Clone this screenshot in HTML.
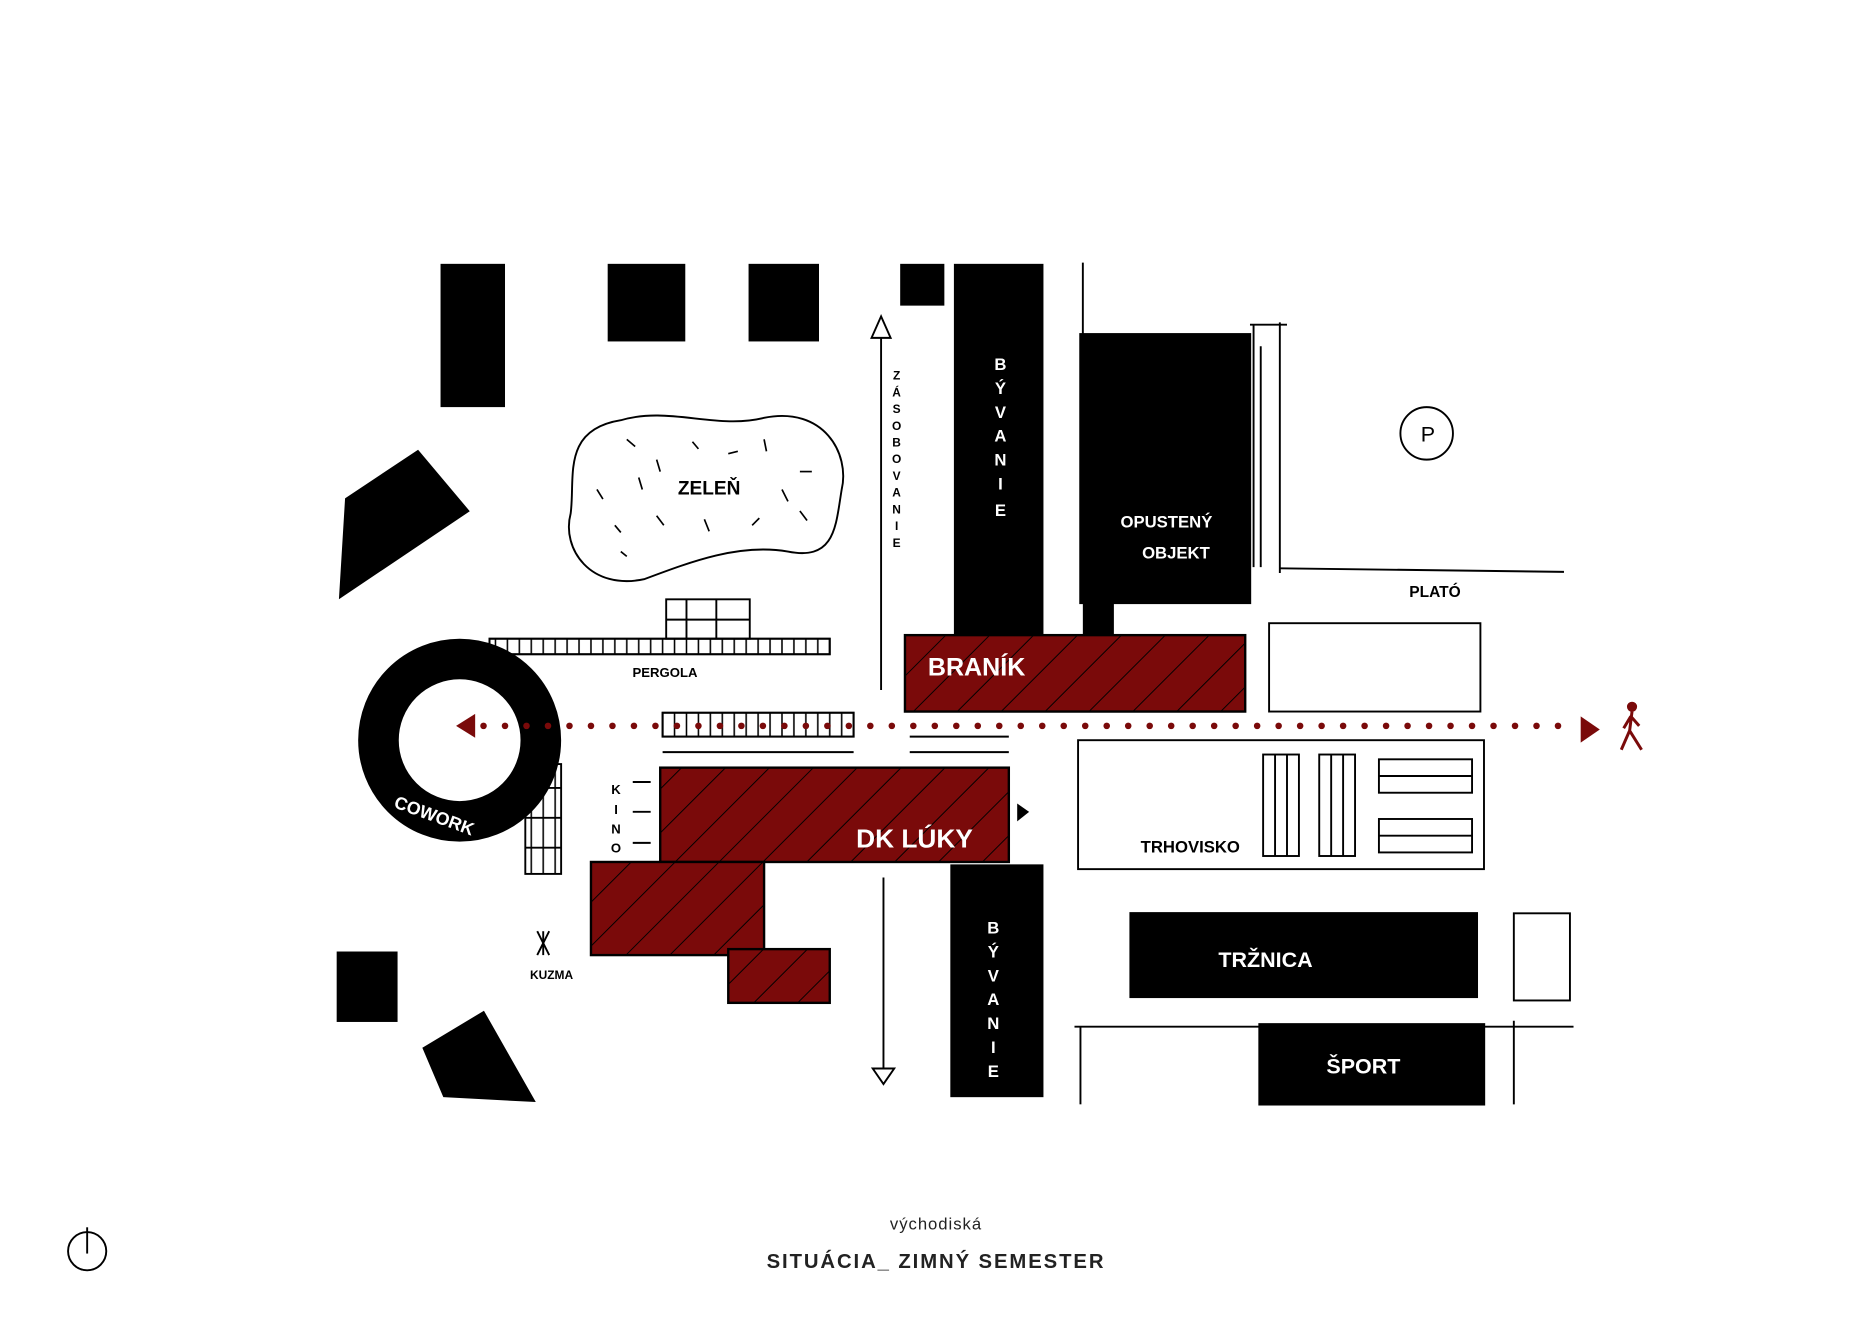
<!DOCTYPE html>
<html><head><meta charset="utf-8"><style>
html,body{margin:0;padding:0;background:#fff;}
svg{display:block;}
text{font-family:"Liberation Sans",sans-serif;}
.hw{font-family:"Liberation Sans",sans-serif;font-weight:bold;}
</style></head><body>
<svg width="1872" height="1324" viewBox="0 0 1568 1109" xmlns="http://www.w3.org/2000/svg">
<defs>
<pattern id="hatch" patternUnits="userSpaceOnUse" width="26" height="26" patternTransform="rotate(45)">
<rect width="26" height="26" fill="#7a0a0a"/><line x1="0" y1="0" x2="0" y2="26" stroke="#000" stroke-width="1.6"/>
</pattern>
<pattern id="vh" patternUnits="userSpaceOnUse" width="10" height="20"><line x1="5" y1="0" x2="5" y2="20" stroke="#000" stroke-width="1.3"/></pattern>
</defs>
<rect width="1568" height="1109" fill="#fff"/>
<g stroke="#000" stroke-width="2" fill="#000">
<rect x="370" y="222" width="52" height="118"/>
<rect x="510" y="222" width="63" height="63"/>
<rect x="628" y="222" width="57" height="63"/>
<rect x="755" y="222" width="35" height="33"/>
<rect x="800" y="222" width="73" height="310"/>
<rect x="905" y="280" width="142" height="225"/>
<rect x="908" y="505" width="24" height="27"/>
<polygon points="290,418 350,378 392,428 285,500"/>
<rect x="797" y="725" width="76" height="193"/>
<rect x="947" y="765" width="290" height="70"/>
<rect x="1055" y="858" width="188" height="67"/>
<rect x="283" y="798" width="49" height="57"/>
<polygon points="355,878 405,848 447,922 372,918"/>
</g>
<g stroke="#000" stroke-width="1.6" fill="none">
<line x1="907" y1="220" x2="907" y2="280"/>
<line x1="1050" y1="272" x2="1050" y2="475"/><line x1="1056" y1="290" x2="1056" y2="475"/>
<line x1="1072" y1="270" x2="1072" y2="480"/>
<line x1="1072" y1="476" x2="1310" y2="479"/>
<line x1="1047" y1="272" x2="1078" y2="272"/>
<circle cx="1195" cy="363" r="22"/>
<path d="M520,352 C560,340 600,360 640,350 C690,340 712,380 705,410 C700,440 700,470 660,462 C620,455 580,470 540,485 C495,495 470,460 478,430 C482,400 470,360 520,352Z"/>
<line x1="738" y1="275" x2="738" y2="578"/>
<polygon points="738,265 730,283 746,283" fill="#fff"/>
<rect x="410" y="535" width="285" height="13" fill="url(#vh)"/>
<rect x="410" y="535" width="285" height="13"/>
<rect x="558" y="502" width="70" height="33"/>
<line x1="558" y1="519" x2="628" y2="519"/><line x1="575" y1="502" x2="575" y2="535"/><line x1="600" y1="502" x2="600" y2="535"/>
<rect x="1063" y="522" width="177" height="74"/>
<rect x="555" y="597" width="160" height="20" fill="url(#vh)"/>
<rect x="555" y="597" width="160" height="20"/>
<line x1="555" y1="630" x2="715" y2="630"/><line x1="762" y1="630" x2="845" y2="630"/>
<line x1="762" y1="617" x2="845" y2="617"/>
<rect x="440" y="640" width="30" height="92" fill="url(#vh)"/>
<line x1="440" y1="660" x2="470" y2="660"/><line x1="440" y1="685" x2="470" y2="685"/><line x1="440" y1="710" x2="470" y2="710"/>
<line x1="740" y1="735" x2="740" y2="898"/>
<polygon points="740,908 731,895 749,895" fill="#fff"/>
<rect x="903" y="620" width="340" height="108"/>
<rect x="1058" y="632" width="30" height="85"/><line x1="1068" y1="632" x2="1068" y2="717"/><line x1="1078" y1="632" x2="1078" y2="717"/>
<rect x="1105" y="632" width="30" height="85"/><line x1="1115" y1="632" x2="1115" y2="717"/><line x1="1125" y1="632" x2="1125" y2="717"/>
<rect x="1155" y="636" width="78" height="28"/><line x1="1155" y1="650" x2="1233" y2="650"/>
<rect x="1155" y="686" width="78" height="28"/><line x1="1155" y1="700" x2="1233" y2="700"/>
<rect x="1268" y="765" width="47" height="73"/>
<line x1="900" y1="860" x2="1318" y2="860"/><line x1="905" y1="860" x2="905" y2="925"/><line x1="1268" y1="855" x2="1268" y2="925"/>
<line x1="530" y1="655" x2="545" y2="655"/><line x1="530" y1="680" x2="545" y2="680"/><line x1="530" y1="706" x2="545" y2="706"/>
<circle cx="73" cy="1048" r="16"/><line x1="73" y1="1028" x2="73" y2="1050"/>
<line x1="455" y1="780" x2="455" y2="800"/><line x1="450" y1="780" x2="460" y2="800"/><line x1="460" y1="780" x2="450" y2="800"/>
</g>
<g stroke="#000" stroke-width="1.4">
<line x1="525" y1="368" x2="532" y2="374"/><line x1="550" y1="385" x2="553" y2="395"/><line x1="580" y1="370" x2="585" y2="376"/><line x1="610" y1="380" x2="618" y2="378"/><line x1="640" y1="368" x2="642" y2="378"/><line x1="670" y1="395" x2="680" y2="395"/><line x1="500" y1="410" x2="505" y2="418"/><line x1="655" y1="410" x2="660" y2="420"/><line x1="515" y1="440" x2="520" y2="446"/><line x1="550" y1="432" x2="556" y2="440"/><line x1="590" y1="435" x2="594" y2="445"/><line x1="630" y1="440" x2="636" y2="434"/><line x1="670" y1="428" x2="676" y2="436"/><line x1="520" y1="462" x2="525" y2="466"/><line x1="535" y1="400" x2="538" y2="410"/>
</g>
<circle cx="385" cy="620" r="68" fill="none" stroke="#000" stroke-width="34"/>
<rect x="758" y="532" width="285" height="64" fill="url(#hatch)" stroke="#000" stroke-width="2"/>
<rect x="553" y="643" width="292" height="79" fill="url(#hatch)" stroke="#000" stroke-width="2"/>
<rect x="495" y="722" width="145" height="78" fill="url(#hatch)" stroke="#000" stroke-width="2"/>
<rect x="610" y="795" width="85" height="45" fill="url(#hatch)" stroke="#000" stroke-width="2"/>
<line x1="405" y1="608" x2="1318" y2="608" stroke="#7a0a0a" stroke-width="5.5" stroke-linecap="round" stroke-dasharray="0 18"/>
<polygon points="382,608 398,598 398,618" fill="#7a0a0a"/>
<polygon points="1340,611 1324,600 1324,622" fill="#7a0a0a"/>
<g stroke="#7a0a0a" stroke-width="2.5" fill="none"><circle cx="1367" cy="592" r="3" fill="#7a0a0a"/><path d="M1367,596 L1365,612 L1358,628 M1365,612 L1375,628 M1366,600 L1360,610 M1366,600 L1373,608"/></g>
<polygon points="852,673 862,680 852,688" fill="#000"/>
<g class="hw" fill="#fff" text-anchor="middle">
<text x="838" y="310" font-size="14">B</text><text x="838" y="330" font-size="14">Ý</text><text x="838" y="350" font-size="14">V</text><text x="838" y="370" font-size="14">A</text><text x="838" y="390" font-size="14">N</text><text x="838" y="410" font-size="14">I</text><text x="838" y="432" font-size="14">E</text>
<text x="832" y="782" font-size="14">B</text><text x="832" y="802" font-size="14">Ý</text><text x="832" y="822" font-size="14">V</text><text x="832" y="842" font-size="14">A</text><text x="832" y="862" font-size="14">N</text><text x="832" y="882" font-size="14">I</text><text x="832" y="902" font-size="14">E</text>
<text x="977" y="442" font-size="14">OPUSTENÝ</text><text x="985" y="468" font-size="14">OBJEKT</text>
<text x="818" y="566" font-size="21">BRANÍK</text>
<text x="766" y="710" font-size="22">DK LÚKY</text>
<text x="1060" y="810" font-size="18">TRŽNICA</text>
<text x="1142" y="899" font-size="18">ŠPORT</text>
<text x="362" y="688" font-size="15" transform="rotate(20 362 688)">COWORK</text>
</g>
<g class="hw" fill="#000" text-anchor="middle">
<text x="594" y="414" font-size="16">ZELEŇ</text>
<text x="1196" y="370" font-size="18" font-weight="normal">P</text>
<text x="1202" y="500" font-size="13">PLATÓ</text>
<text x="557" y="567" font-size="11">PERGOLA</text>
<text x="997" y="714" font-size="14">TRHOVISKO</text>
<text x="462" y="820" font-size="10">KUZMA</text>
<text x="516" y="665" font-size="11">K</text><text x="516" y="682" font-size="11">I</text><text x="516" y="698" font-size="11">N</text><text x="516" y="714" font-size="11">O</text>
<text x="751" y="318" font-size="10">Z</text><text x="751" y="332" font-size="10">Á</text><text x="751" y="346" font-size="10">S</text><text x="751" y="360" font-size="10">O</text><text x="751" y="374" font-size="10">B</text><text x="751" y="388" font-size="10">O</text><text x="751" y="402" font-size="10">V</text><text x="751" y="416" font-size="10">A</text><text x="751" y="430" font-size="10">N</text><text x="751" y="444" font-size="10">I</text><text x="751" y="458" font-size="10">E</text>
</g>
<text x="784" y="1030" font-size="14" letter-spacing="0.8" text-anchor="middle" fill="#222">východiská</text>
<text x="784" y="1062" font-size="17" letter-spacing="1.6" font-weight="bold" text-anchor="middle" fill="#222">SITUÁCIA_ ZIMNÝ SEMESTER</text>
</svg>
</body></html>
